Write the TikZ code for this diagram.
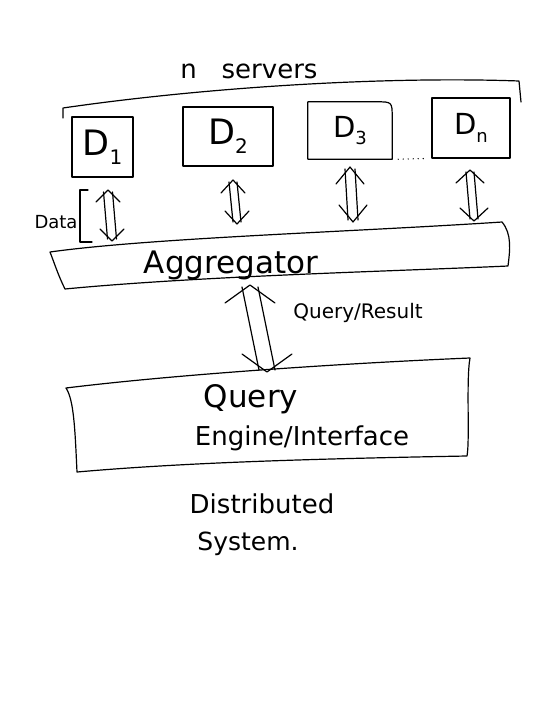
\documentclass[tikz,border=0pt]{standalone}
\usepackage{fontspec}
\setmainfont{DejaVu Sans}
\usetikzlibrary{calc}
\newcommand\fsz[1]{\fontsize{#1}{#1}\selectfont}
% double-shafted arrow: #1 top apex, #2 bottom apex, #3 half gap, #4 head half width, #5 head length
\newcommand\dblarr[5]{%
  \draw[sk] ($(#1)+(-#3,2)$) -- ($(#2)+(-#3,-2)$);
  \draw[sk] ($(#1)+(#3,2)$) -- ($(#2)+(#3,-2)$);
  \draw[sk] ($(#1)+(-#4,#5)$) -- (#1) -- ($(#1)+(#4,#5)$);
  \draw[sk] ($(#2)+(-#4,-#5)$) -- (#2) -- ($(#2)+(#4,-#5)$);}
\begin{document}
\begin{tikzpicture}[x=1pt,y=-1pt,
  sk/.style={line width=1.2pt, line cap=round, line join=round},
  sbox/.style={sk, draw, rectangle, inner sep=0pt},
  lbl/.style={anchor=base, inner sep=0pt}]
\useasboundingbox (0,0) rectangle (540,720);

% brace over the servers
\draw[sk] (63,118) -- (63,108) .. controls (200,88) and (380,76) .. (519,81) -- (521,102);
\node[lbl] (nserv) at (249,78) {\fsz{26}n\ \ \ servers};

% servers
\node[sbox, minimum width=61pt, minimum height=60pt] (D1) at (102.5,147)
  {\fsz{35}D\raisebox{-0.25em}{\fsz{20}1}};
\node[sbox, minimum width=90pt, minimum height=59pt] (D2) at (228,136.5)
  {\fsz{35}D\raisebox{-0.25em}{\fsz{20}2}};
\node[inner sep=0pt, minimum width=84pt, minimum height=57pt] (D3) at (350,130.5)
  {\fsz{29}D\raisebox{-0.25em}{\fsz{18}3}};
\draw[sk] (D3.north west) -- ($(D3.north east)+(-16,0)$) .. controls (D3.north east) .. ($(D3.north east)+(0,16)$)
  -- (D3.south east) -- (D3.south west) -- cycle;
\node[sbox, minimum width=78pt, minimum height=60pt] (Dn) at (471,128)
  {\fsz{29}D\raisebox{-0.25em}{\fsz{18}n}};
\draw[line width=1.4pt, line cap=round, dash pattern=on 0pt off 5pt]
  ($(D3.south east)+(6,0)$) -- ($(Dn.south west)+(-8,0)$);

% aggregator
\draw[sk] (50,252) .. controls (150,238) and (350,232) .. (502,222)
  .. controls (512,234) and (510,250) .. (508,266)
  .. controls (400,271) and (200,276) .. (65,289)
  .. controls (58,275) and (54,262) .. (50,252);
\node[lbl] (agg) at (231,273) {\fsz{31}Aggregator};

% server <-> aggregator arrows
\coordinate (a1t) at (108,190); \coordinate (a1b) at (112,241);
\coordinate (a2t) at (233,180); \coordinate (a2b) at (237,224);
\coordinate (a3t) at (350,167); \coordinate (a3b) at (353,222);
\coordinate (a4t) at (470,170); \coordinate (a4b) at (474,221);
\dblarr{a1t}{a1b}{4.5}{12}{12}
\draw[sk] (88,190) -- (80,190) -- (80,242) -- (92,242);
\node[lbl] (data) at (56,228) {\fsz{18}Data};
\dblarr{a2t}{a2b}{4}{12}{13}
\dblarr{a3t}{a3b}{5}{14}{17}
\dblarr{a4t}{a4b}{4}{14}{13}

% aggregator <-> query engine
\coordinate (mt) at (250,285); \coordinate (mb) at (267,372);
\dblarr{mt}{mb}{8}{25}{18}
\node[lbl] (qr) at (358,318) {\fsz{20}Query/Result};

% query engine
\draw[sk] (66,388) .. controls (180,374) and (350,363) .. (470,358)
  .. controls (466,380) and (470,440) .. (467,456)
  .. controls (300,459) and (180,463) .. (77,472)
  .. controls (75,430) and (74,400) .. (66,388);
\node[lbl] (q1) at (251,407) {\fsz{31}Query};
\node[lbl] (q2) at (302,445) {\fsz{26}Engine/Interface};

% caption
\node[lbl] (c1) at (262,513) {\fsz{26}Distributed};
\node[lbl] (c2) at (248,550) {\fsz{25}System.};
\end{tikzpicture}
\end{document}
